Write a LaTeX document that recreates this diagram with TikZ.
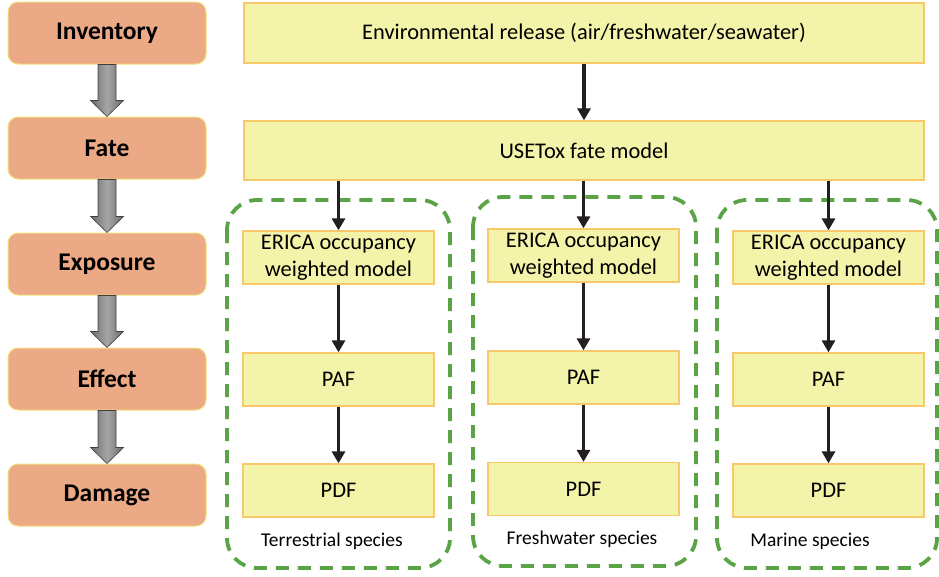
\documentclass[tikz,border=0pt]{standalone}
\usepackage{fontspec}
\setmainfont{Carlito}
\usetikzlibrary{arrows.meta,calc}
\definecolor{salmon}{HTML}{EBA985}
\definecolor{salmonedge}{HTML}{F4E07C}
\definecolor{boxfill}{HTML}{F4F3AA}
\definecolor{boxedge}{HTML}{F8C86A}
\definecolor{dashgreen}{HTML}{5AA346}
\definecolor{arrowblack}{HTML}{231F20}
\begin{document}
\begin{tikzpicture}[x=1pt,y=-1pt,
  stage/.style={draw=salmonedge, line width=1pt, fill=salmon, rounded corners=10pt,
    minimum width=198pt, minimum height=62pt, inner sep=0pt,
    font=\fontsize{25.5}{30}\selectfont\bfseries},
  ybox/.style={draw=boxedge, line width=1.3pt, fill=boxfill, inner sep=0pt,
    align=center, font=\fontsize{22.4}{26.5}\selectfont},
  colbox/.style={ybox, minimum width=191pt, minimum height=53pt},
  flow/.style={draw=arrowblack, line width=3.2pt, -{Triangle[width=13pt,length=12pt]}},
  group/.style={draw=dashgreen, line width=3.8pt, dash pattern=on 13pt off 9pt, rounded corners=30pt},
  species/.style={font=\fontsize{19.5}{22}\selectfont, inner sep=0pt},
  blockarrow/.style={draw=black!75, line width=0.6pt, left color=black!58, right color=black!58, middle color=black!35}
]
\useasboundingbox (0,0) rectangle (939,576);

% left stages
\node[stage] (inv) at (107,33) {Inventory};
\node[stage] (fate) at (107,148) {Fate};
\node[stage] (expo) at (107,264) {Exposure};
\node[stage] (eff) at (107,379) {Effect};
\node[stage] (dam) at (107,495) {Damage};

\foreach \a/\b in {inv/fate, fate/expo, expo/eff, eff/dam}{
  \path[blockarrow] let \p1=(\a.south), \p2=(\b.north) in
    ({\x1-9pt},\y1) -- ({\x1-9pt},{\y2+16pt}) -- ({\x1-16.5pt},{\y2+16pt}) -- (\x1,\y2)
    -- ({\x1+16.5pt},{\y2+16pt}) -- ({\x1+9pt},{\y2+16pt}) -- ({\x1+9pt},\y1) -- cycle;
}

% dashed groups
\draw[group] (227,200) rectangle (450,568);
\draw[group] (473,197) rectangle (696,566);
\draw[group] (717,200) rectangle (937,568);

% top boxes
\node[ybox, minimum width=680pt, minimum height=60pt] (env) at (584,33) {Environmental release (air/freshwater/seawater)};
\node[ybox, minimum width=680pt, minimum height=59pt] (use) at (584,150.5) {USETox fate model};

% column 1
\node[colbox] (e1) at (338.5,257.5) {ERICA occupancy\\weighted model};
\node[colbox] (p1) at (338.5,379.5) {PAF};
\node[colbox] (d1) at (338.5,490.5) {PDF};
% column 2
\node[colbox] (e2) at (583.5,255.5) {ERICA occupancy\\weighted model};
\node[colbox] (p2) at (583.5,377.5) {PAF};
\node[colbox] (d2) at (583.5,489) {PDF};
% column 3
\node[colbox] (e3) at (828.5,257.5) {ERICA occupancy\\weighted model};
\node[colbox] (p3) at (828.5,379.5) {PAF};
\node[colbox] (d3) at (828.5,490.5) {PDF};

\node[species] (s1) at (332,541) {Terrestrial species};
\node[species] (s2) at (582,539) {Freshwater species};
\node[species] (s3) at (810,541) {Marine species};

% arrows
\draw[flow] (env.south) -- (use.north);
\draw[flow] (use.south -| e1.north) -- (e1.north);
\draw[flow] (use.south -| e2.north) -- (e2.north);
\draw[flow] (use.south -| e3.north) -- (e3.north);
\draw[flow] (e1) -- (p1);
\draw[flow] (p1) -- (d1);
\draw[flow] (e2) -- (p2);
\draw[flow] (p2) -- (d2);
\draw[flow] (e3) -- (p3);
\draw[flow] (p3) -- (d3);
\end{tikzpicture}
\end{document}
